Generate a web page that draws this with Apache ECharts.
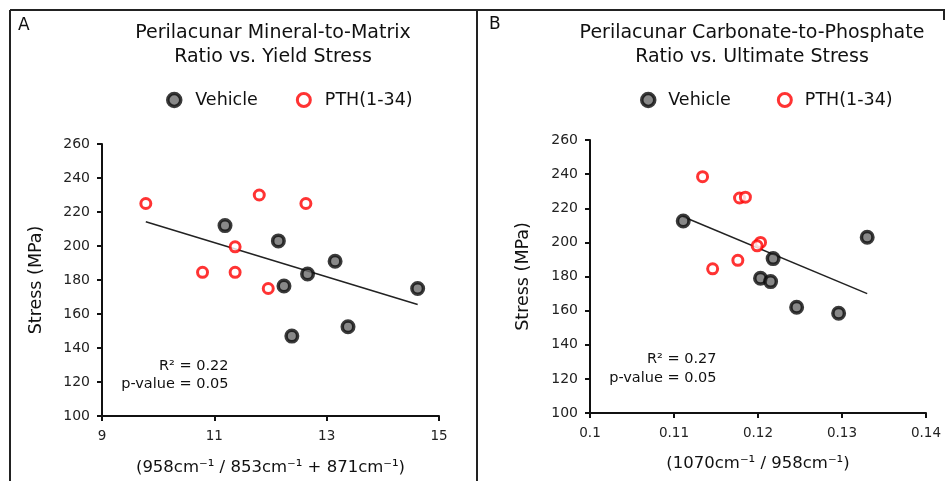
<!DOCTYPE html>
<html>
<head>
<meta charset="utf-8">
<script src="https://cdn.jsdelivr.net/npm/echarts@6/dist/echarts.min.js"></script>
<style>
html, body { margin: 0; padding: 0; background: #fff; }
#main { width: 945px; height: 481px; }
</style>
</head>
<body>
<div id="main"></div>
<script>
// panel A - mineral-to-matrix ratio vs yield stress
var aVehicleX = [11.19, 12.14, 12.24, 12.66, 13.15, 12.38, 13.38, 14.62];
var aVehicleY = [212, 203, 176.5, 183.5, 191, 147, 152.5, 175];
var aPthX = [9.78, 11.80, 12.63, 11.37, 10.79, 11.37, 11.96];
var aPthY = [225, 230, 225, 199.5, 184.5, 184.5, 175];

// panel B - carbonate-to-phosphate ratio vs ultimate stress
var bVehicleX = [0.1111, 0.1218, 0.1203, 0.1215, 0.1246, 0.1296, 0.1330];
var bVehicleY = [212.5, 190.5, 179, 177, 162, 158.5, 203];
var bPthX = [0.1134, 0.1178, 0.1185, 0.1203, 0.1199, 0.1176, 0.1146];
var bPthY = [238.5, 226, 226.5, 200, 198, 189.5, 184.5];

var yRange = [100, 260];
var aXRange = [9, 15];
var bXRange = [0.1, 0.14];

var FONT = '"DejaVu Sans", "Liberation Sans", sans-serif';

function zip(xs, ys) {
  return xs.map(function (x, i) { return [x, ys[i]]; });
}

// least squares line over all points of a panel, drawn from min x to max x
function fit(xs, ys) {
  var n = xs.length, mx = 0, my = 0, sxy = 0, sxx = 0;
  for (var i = 0; i < n; i++) { mx += xs[i]; my += ys[i]; }
  mx /= n; my /= n;
  for (var j = 0; j < n; j++) {
    sxy += (xs[j] - mx) * (ys[j] - my);
    sxx += (xs[j] - mx) * (xs[j] - mx);
  }
  var k = sxy / sxx;
  var x0 = Math.min.apply(null, xs), x1 = Math.max.apply(null, xs);
  return [[x0, my + k * (x0 - mx)], [x1, my + k * (x1 - mx)]];
}

var vehicleStyle = { color: '#6a6a6a', borderColor: '#0a0a0a', borderWidth: 3.5 };
var pthStyle = { color: '#fff', borderColor: '#ff0000', borderWidth: 3 };

function xAxisOf(idx, range, interval, name, gap) {
  return {
    type: 'value', gridIndex: idx, min: range[0], max: range[1], interval: interval,
    name: name, nameLocation: 'middle', nameGap: gap,
    nameTextStyle: { fontFamily: FONT, fontSize: 16.5, color: '#111' },
    axisLine: { onZero: false, lineStyle: { color: '#111', width: 2 } },
    axisTick: { length: 5, lineStyle: { color: '#111', width: 2 } },
    axisLabel: { fontFamily: FONT, fontSize: 13.5, color: '#222', margin: 13 },
    splitLine: { show: false }
  };
}

function yAxisOf(idx, gap) {
  return {
    type: 'value', gridIndex: idx, min: yRange[0], max: yRange[1], interval: 20,
    name: 'Stress (MPa)', nameLocation: 'middle', nameGap: gap,
    nameTextStyle: { fontFamily: FONT, fontSize: 17.5, color: '#111' },
    axisLine: { show: true, onZero: false, lineStyle: { color: '#111', width: 2 } },
    axisTick: { show: true, length: 5, lineStyle: { color: '#111', width: 2 } },
    axisLabel: { fontFamily: FONT, fontSize: 14, color: '#222', margin: 12 },
    splitLine: { show: false }
  };
}

function legendOf(left, gap, width) {
  return {
    left: left, top: 86, itemWidth: width, itemHeight: 13, itemGap: gap, icon: 'circle',
    data: [
      { name: 'Vehicle', itemStyle: { borderWidth: 3.5 } },
      { name: 'PTH(1-34)', itemStyle: { borderWidth: 3 } }
    ],
    textStyle: { fontFamily: FONT, fontSize: 17.5, color: '#111' }
  };
}

function label(text, x, y, size, align) {
  return {
    type: 'text', silent: true,
    style: { text: text, x: x, y: y, fontSize: size, fontFamily: FONT, fill: '#111',
             align: align || 'center', verticalAlign: 'middle' }
  };
}

function rule(x1, y1, x2, y2) {
  return { type: 'line', silent: true, shape: { x1: x1, y1: y1, x2: x2, y2: y2 },
           style: { stroke: '#222', lineWidth: 2 } };
}

var chart = echarts.init(document.getElementById('main'), null, { renderer: 'canvas' });

chart.setOption({
  backgroundColor: '#fff',
  animation: false,
  grid: [
    { left: 102, top: 144, width: 337, height: 272 },
    { left: 590, top: 140, width: 336, height: 273 }
  ],
  xAxis: [
    xAxisOf(0, aXRange, 2, '(958cm\u207B\u00B9 / 853cm\u207B\u00B9 + 871cm\u207B\u00B9)', 43),
    xAxisOf(1, bXRange, 0.01, '(1070cm\u207B\u00B9 / 958cm\u207B\u00B9)', 42)
  ],
  yAxis: [yAxisOf(0, 57), yAxisOf(1, 58)],
  legend: [legendOf(161, 38, 32), legendOf(635, 46, 30)],
  series: [
    { type: 'line', xAxisIndex: 0, yAxisIndex: 0, data: fit(aVehicleX.concat(aPthX), aVehicleY.concat(aPthY)),
      symbol: 'none', silent: true, z: 1, lineStyle: { color: '#222', width: 1.5 } },
    { type: 'line', xAxisIndex: 1, yAxisIndex: 1, data: fit(bVehicleX.concat(bPthX), bVehicleY.concat(bPthY)),
      symbol: 'none', silent: true, z: 1, lineStyle: { color: '#222', width: 1.5 } },
    { name: 'Vehicle', type: 'scatter', xAxisIndex: 0, yAxisIndex: 0, symbolSize: 11.5, z: 3,
      data: zip(aVehicleX, aVehicleY), itemStyle: vehicleStyle },
    { name: 'PTH(1-34)', type: 'scatter', xAxisIndex: 0, yAxisIndex: 0, symbolSize: 10, z: 3,
      data: zip(aPthX, aPthY), itemStyle: pthStyle },
    { name: 'Vehicle', type: 'scatter', xAxisIndex: 1, yAxisIndex: 1, symbolSize: 11.5, z: 3,
      data: zip(bVehicleX, bVehicleY), itemStyle: vehicleStyle },
    { name: 'PTH(1-34)', type: 'scatter', xAxisIndex: 1, yAxisIndex: 1, symbolSize: 10, z: 3,
      data: zip(bPthX, bPthY), itemStyle: pthStyle }
  ],
  graphic: [
    // panel frames
    rule(10, 10, 945, 10),
    rule(10, 10, 10, 481),
    rule(477, 10, 477, 481),
    rule(944, 10, 944, 20),
    label('A', 18, 25.5, 17, 'left'),
    label('B', 489, 25, 17, 'left'),
    label('Perilacunar Mineral-to-Matrix', 273, 32.7, 19),
    label('Ratio vs. Yield Stress', 273, 57.5, 19),
    label('Perilacunar Carbonate-to-Phosphate', 752, 32.7, 19),
    label('Ratio vs. Ultimate Stress', 752, 57.5, 19),
    label('R\u00B2 = 0.22', 228.5, 366, 14.5, 'right'),
    label('p-value = 0.05', 228.5, 384, 14.5, 'right'),
    label('R\u00B2 = 0.27', 716.5, 359.5, 14.5, 'right'),
    label('p-value = 0.05', 716.5, 378, 14.5, 'right')
  ]
});
</script>
</body>
</html>
